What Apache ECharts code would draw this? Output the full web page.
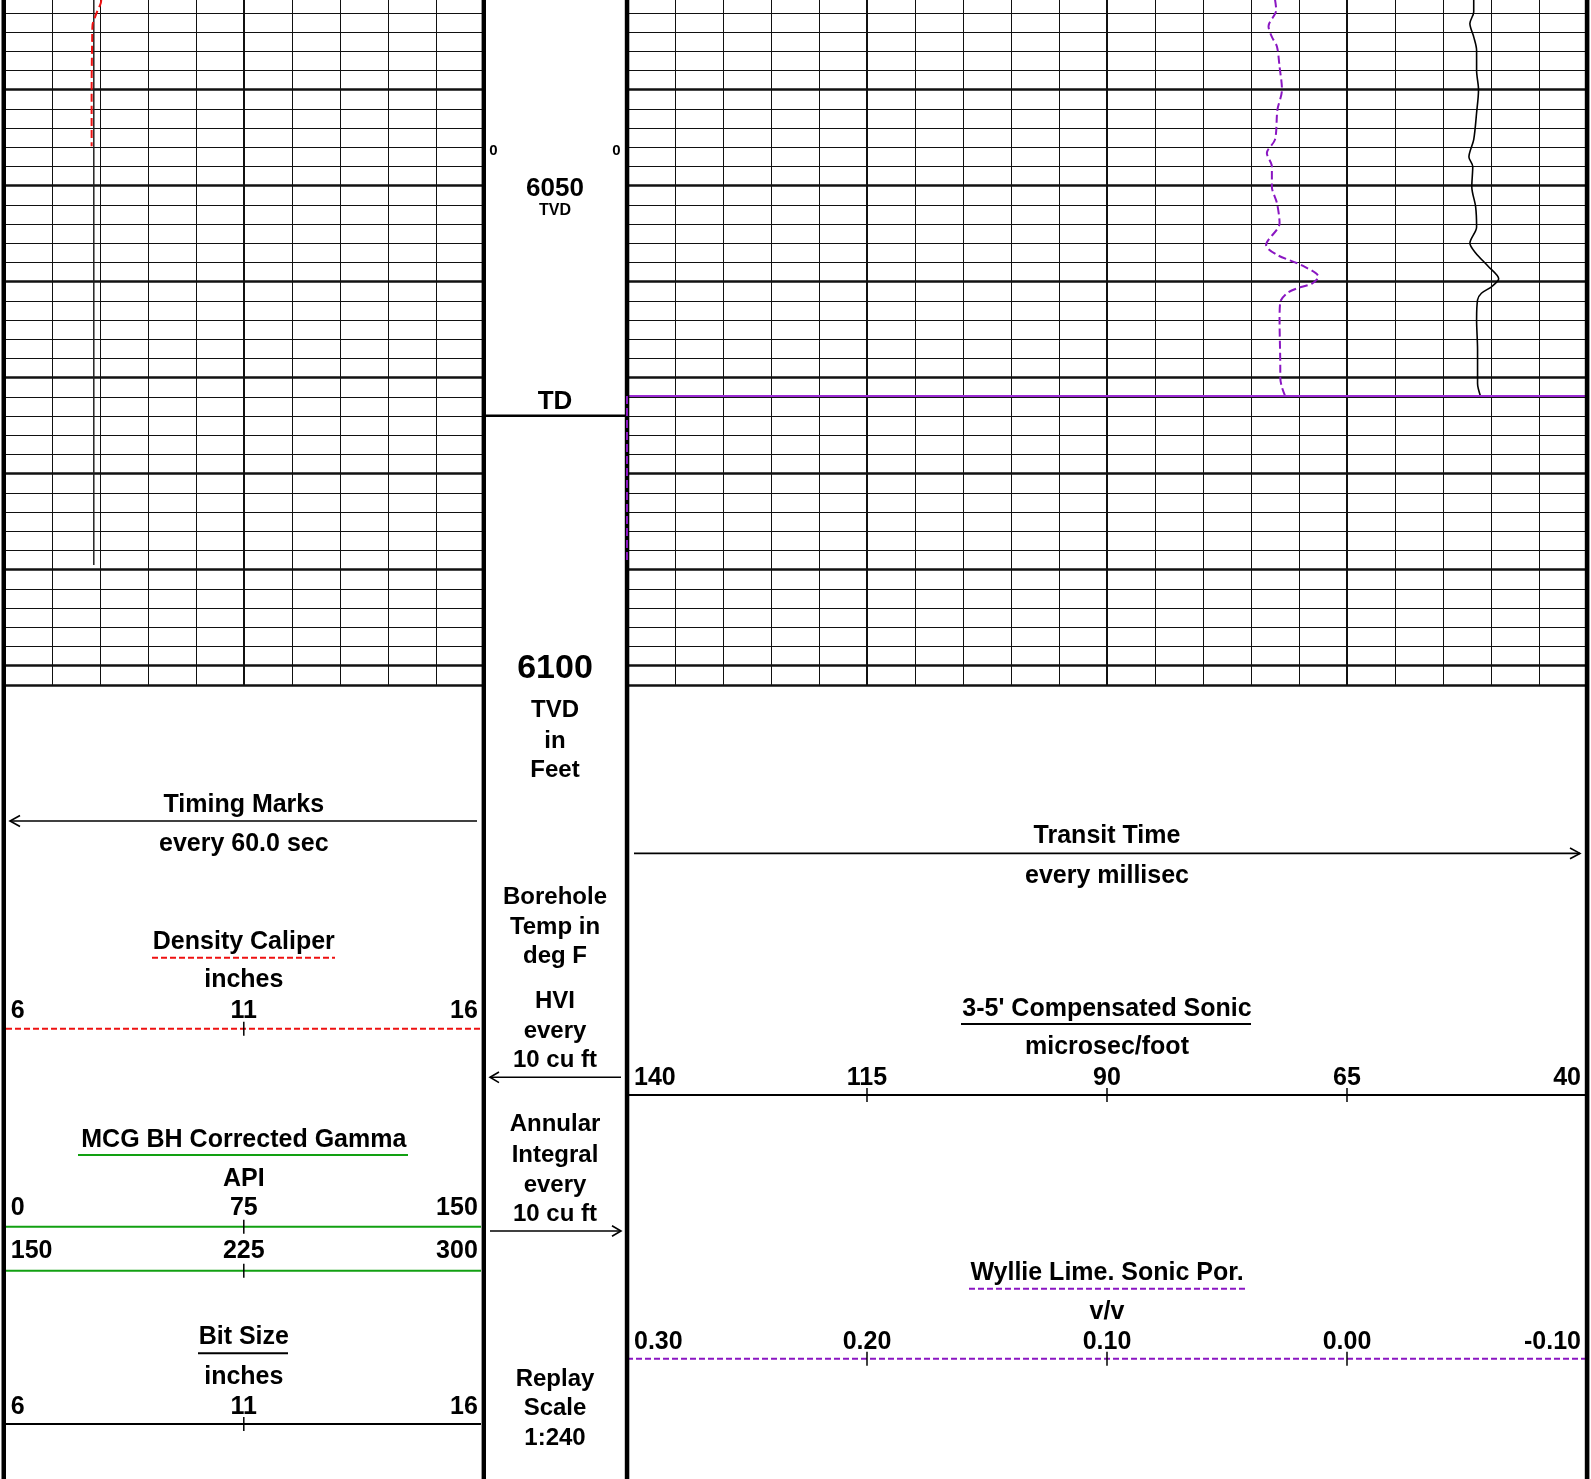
<!DOCTYPE html>
<html>
<head>
<meta charset="utf-8">
<title>Sonic log 6030-6102 ft</title>
<script src="https://cdn.jsdelivr.net/npm/echarts@6/dist/echarts.min.js"></script>
<style>
  html, body { margin: 0; padding: 0; background: #fff; }
  #log { width: 1591px; height: 1479px; }
</style>
</head>
<body>
<div id="log"></div>
<script>
// ---- curve data (TVD in feet) ----
var calTvd   = [6030.6, 6031.0, 6031.8, 6032.6, 6033.2, 6035.0, 6040.0, 6045.9]
var calValue = [8.03, 8.02, 7.95, 7.89, 7.85, 7.84, 7.83, 7.83]

var bitTvd   = [6030.0, 6089.5]
var bitValue = [7.875, 7.875]

var dtTvd   = [6030.6, 6031.9, 6033.1, 6034.5, 6035.9, 6038.0, 6040.0, 6042.4, 6045.2, 6047.0, 6048.0, 6050.1, 6052.2,
               6054.3, 6056.0, 6057.0, 6058.4, 6059.7, 6060.5, 6061.2, 6061.9, 6064.0, 6067.1, 6070.6, 6071.9]
var dtValue = [51.8, 51.8, 52.2, 51.8, 51.5, 51.5, 51.3, 51.5, 51.8, 52.3, 51.9, 52.0, 51.6,
               51.5, 52.2, 51.6, 50.3, 49.2, 49.9, 51.0, 51.4, 51.5, 51.4, 51.4, 51.1]

var porTvd   = [6030.6, 6031.7, 6033.4, 6034.5, 6035.5, 6037.6, 6040.0, 6042.1, 6045.2, 6046.6, 6048.0, 6050.1, 6051.8,
                6053.9, 6056.2, 6057.2, 6058.3, 6059.5, 6060.2, 6060.7, 6061.2, 6062.1, 6064.0, 6068.9, 6070.0, 6071.0, 6071.9]
var porValue = [0.0300, 0.0295, 0.0327, 0.0313, 0.0292, 0.0281, 0.0271, 0.0290, 0.0300, 0.0334, 0.0313, 0.0313, 0.0292,
                0.0281, 0.0337, 0.0292, 0.0188, 0.0119, 0.0146, 0.0209, 0.0250, 0.0278, 0.0281, 0.0278, 0.0278, 0.0271, 0.0258]
// porosity after last reading: full-width step then pinned at left edge
var porStepTvd   = [6071.9, 6071.9]
var porStepValue = [-0.10, 0.30]
var porEdgeTvd   = [6071.9, 6089.2]
var porEdgeValue = [0.30, 0.30]

// ---- scale labels ----
var depthLabels   = [6050, 6100]
var caliperTicks  = ['6', '11', '16']
var gammaTicks1   = ['0', '75', '150']
var gammaTicks2   = ['150', '225', '300']
var bitTicks      = ['6', '11', '16']
var sonicTicks    = ['140', '115', '90', '65', '40']
var porosityTicks = ['0.30', '0.20', '0.10', '0.00', '-0.10']

// ---- layout ----
var TOP_TVD = 6030, BOT_TVD = 6102, PX_FT = 9.6, GRID_TOP = -6.3
var L_X = 3.8, L_W = 480      // track 1
var R_X = 627, R_W = 960      // track 2-3
var D_MID = 555               // depth track centre
var FONT = '"Liberation Sans", Arial, sans-serif'
var RED = '#ee1111', GREEN = '#12a012', PURPLE = '#8a16c2'

function pairs(xs, ys) { return xs.map(function (v, i) { return [v, ys[i]] }) }
function tvdY(d) { return GRID_TOP + (d - TOP_TVD) * PX_FT }

function gridX(gi, max, step, w) {
  return { gridIndex: gi, type: 'value', min: 0, max: max, interval: step, position: 'bottom',
    axisLine: { show: false }, axisTick: { show: false }, axisLabel: { show: false },
    splitLine: { show: true, lineStyle: { color: '#111', width: w } } }
}
function gridY(gi, step, w) {
  return { gridIndex: gi, type: 'value', inverse: true, min: TOP_TVD, max: BOT_TVD, interval: step,
    axisLine: { show: false }, axisTick: { show: false }, axisLabel: { show: false },
    splitLine: { show: true, lineStyle: { color: '#111', width: w } } }
}

// ---- graphic helpers ----
var g = []
function txt(x, y, s, size, align) {
  g.push({ type: 'text', x: x, y: y + 2, z: 20,
    style: { text: s, font: 'bold ' + size + 'px ' + FONT, fill: '#000', align: align || 'center', verticalAlign: 'middle' } })
}
function hl(x1, x2, y, color, w, dash) {
  g.push({ type: 'line', z: 20, shape: { x1: x1, y1: y, x2: x2, y2: y },
    style: { stroke: color, lineWidth: w, lineDash: dash || null } })
}
function vl(x, y1, y2, w) {
  g.push({ type: 'line', z: 20, shape: { x1: x, y1: y1, x2: x, y2: y2 }, style: { stroke: '#000', lineWidth: w || 1.5 } })
}
function head(pts) {
  g.push({ type: 'polyline', z: 20, shape: { points: pts }, style: { stroke: '#000', lineWidth: 1.6, fill: null } })
}
function rect(x, w) {
  g.push({ type: 'rect', z: 30, shape: { x: x, y: 0, width: w, height: 1479 }, style: { fill: '#000' } })
}
// labels spread over a track: first left, last right, others centred
function scale(labels, x0, w, y) {
  var n = labels.length - 1
  labels.forEach(function (s, i) {
    var x = x0 + w * i / n
    if (i === 0) txt(x + 7, y, s, 25, 'left')
    else if (i === n) txt(x - 6, y, s, 25, 'right')
    else txt(x, y, s, 25, 'center')
  })
}
function ticks(x0, w, n, y) {
  for (var i = 1; i < n; i++) vl(x0 + w * i / n, y - 7, y + 7, 1.5)
}

// track borders
rect(1.5, 4.5); rect(481.6, 4.4); rect(624.8, 4.5); rect(1584.8, 4.6)

// depth track
txt(493.5, 149, '0', 15); txt(616.5, 149, '0', 15)
txt(D_MID, tvdY(depthLabels[0]) + 1, String(depthLabels[0]), 26)
txt(D_MID, tvdY(depthLabels[0]) + 23, 'TVD', 16)
txt(D_MID, 400, 'TD', 26)
hl(484, 627, 415.7, '#000', 2.5)
txt(D_MID, tvdY(depthLabels[1]) + 1, String(depthLabels[1]), 34)
txt(D_MID, 708, 'TVD', 24); txt(D_MID, 739, 'in', 24); txt(D_MID, 768, 'Feet', 24)
txt(D_MID, 895, 'Borehole', 24); txt(D_MID, 925, 'Temp in', 24); txt(D_MID, 954, 'deg F', 24)
txt(D_MID, 999, 'HVI', 24); txt(D_MID, 1029, 'every', 24); txt(D_MID, 1058, '10 cu ft', 24)
hl(490, 621, 1077.3, '#000', 1.6); head([[499, 1072], [490, 1077.3], [499, 1082.6]])
txt(D_MID, 1122, 'Annular', 24); txt(D_MID, 1153, 'Integral', 24); txt(D_MID, 1183, 'every', 24); txt(D_MID, 1212, '10 cu ft', 24)
hl(490, 621, 1231, '#000', 1.6); head([[612, 1225.7], [621, 1231], [612, 1236.3]])
txt(D_MID, 1377, 'Replay', 24); txt(D_MID, 1406, 'Scale', 24); txt(D_MID, 1436, '1:240', 24)

// track 1 header
var LC = L_X + L_W / 2
txt(LC, 803, 'Timing Marks', 25)
hl(10, 477, 821, '#000', 1.6); head([[20, 815.5], [10, 821], [20, 826.5]])
txt(LC, 842, 'every 60.0 sec', 25)
txt(LC, 940, 'Density Caliper', 25)
hl(152, 335, 957.7, RED, 2, [6, 3])
txt(LC, 978, 'inches', 25)
scale(caliperTicks, L_X, L_W, 1009)
hl(6, 481, 1028.7, RED, 2, [6, 3]); ticks(L_X, L_W, 2, 1028.7)
txt(LC, 1138, 'MCG BH Corrected Gamma', 25)
hl(78, 408, 1155, GREEN, 2)
txt(LC, 1177, 'API', 25)
scale(gammaTicks1, L_X, L_W, 1206)
hl(6, 481, 1226.7, GREEN, 2); ticks(L_X, L_W, 2, 1226.7)
scale(gammaTicks2, L_X, L_W, 1249)
hl(6, 481, 1270.7, GREEN, 2); ticks(L_X, L_W, 2, 1270.7)
txt(LC, 1335, 'Bit Size', 25)
hl(198, 288, 1353.3, '#000', 2)
txt(LC, 1375, 'inches', 25)
scale(bitTicks, L_X, L_W, 1405)
hl(6, 481, 1424, '#000', 2); ticks(L_X, L_W, 2, 1424)

// track 2-3 header
var RC = R_X + R_W / 2
txt(RC, 834, 'Transit Time', 25)
hl(634, 1580, 853.4, '#000', 1.6); head([[1570, 848], [1580, 853.4], [1570, 858.8]])
txt(RC, 874, 'every millisec', 25)
txt(RC, 1007, "3-5' Compensated Sonic", 25)
hl(961, 1251, 1024, '#000', 2)
txt(RC, 1045, 'microsec/foot', 25)
scale(sonicTicks, R_X, R_W, 1076)
hl(627, 1587, 1095, '#000', 2); ticks(R_X, R_W, 4, 1095)
txt(RC, 1271, 'Wyllie Lime. Sonic Por.', 25)
hl(969, 1245, 1288.7, PURPLE, 2, [6, 3])
txt(RC, 1310, 'v/v', 25)
scale(porosityTicks, R_X, R_W, 1340)
hl(627, 1587, 1358.7, PURPLE, 2, [6, 3]); ticks(R_X, R_W, 4, 1358.7)

var chart = echarts.init(document.getElementById('log'), null, { renderer: 'canvas' })
var gridH = (BOT_TVD - TOP_TVD) * PX_FT
var option = {
  animation: false,
  backgroundColor: '#fff',
  grid: [
    // top of 6030 ft sits just above the page, so the grid may not be pushed back inside
    { left: L_X, top: GRID_TOP, width: L_W, height: gridH, outerBoundsMode: 'none', containLabel: false },
    { left: R_X, top: GRID_TOP, width: R_W, height: gridH, outerBoundsMode: 'none', containLabel: false }
  ],
  xAxis: [
    gridX(0, 10, 1, 1),
    gridX(0, 10, 5, 2),
    { gridIndex: 0, type: 'value', min: 6, max: 16, show: false },
    gridX(1, 20, 1, 1),
    gridX(1, 20, 5, 2),
    { gridIndex: 1, type: 'value', min: 40, max: 140, inverse: true, show: false },
    { gridIndex: 1, type: 'value', min: -0.1, max: 0.3, inverse: true, show: false }
  ],
  yAxis: [
    gridY(0, 2, 1),
    gridY(0, 10, 2.5),
    gridY(1, 2, 1),
    gridY(1, 10, 2.5)
  ],
  series: [
    { name: 'Bit Size', type: 'line', xAxisIndex: 2, yAxisIndex: 0, data: pairs(bitValue, bitTvd),
      showSymbol: false, lineStyle: { color: '#222', width: 1.5 } },
    { name: 'Density Caliper', type: 'line', xAxisIndex: 2, yAxisIndex: 0, data: pairs(calValue, calTvd),
      showSymbol: false, smooth: 0.3, lineStyle: { color: RED, width: 2, type: [8, 4] } },
    { name: '3-5\' Compensated Sonic', type: 'line', xAxisIndex: 5, yAxisIndex: 2, data: pairs(dtValue, dtTvd),
      showSymbol: false, smooth: 0.3, lineStyle: { color: '#000', width: 1.6 } },
    { name: 'Wyllie Lime. Sonic Por.', type: 'line', xAxisIndex: 6, yAxisIndex: 2, data: pairs(porValue, porTvd),
      showSymbol: false, smooth: 0.3, lineStyle: { color: PURPLE, width: 2, type: [8, 4] } },
    { type: 'line', xAxisIndex: 6, yAxisIndex: 2, data: pairs(porStepValue, porStepTvd), clip: false,
      showSymbol: false, lineStyle: { color: '#9b2bd4', width: 2 } },
    { type: 'line', xAxisIndex: 6, yAxisIndex: 2, data: pairs(porEdgeValue, porEdgeTvd), clip: false, z: 40,
      showSymbol: false, lineStyle: { color: PURPLE, width: 2, type: [8, 4] } }
  ],
  graphic: g
}
chart.setOption(option)
window.addEventListener('resize', function () { chart.resize() })
</script>
</body>
</html>
